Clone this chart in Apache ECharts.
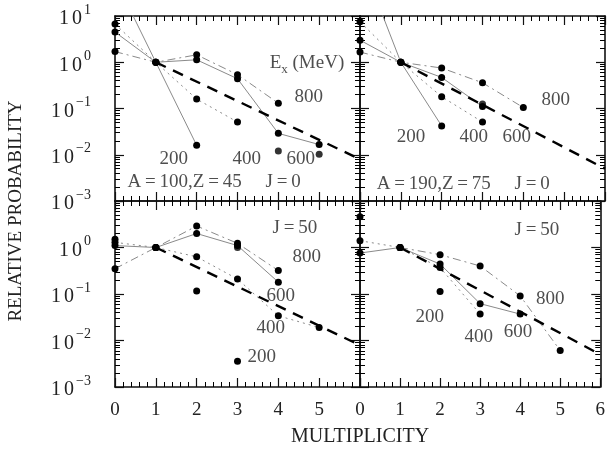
<!DOCTYPE html>
<html><head><meta charset="utf-8">
<script src="https://cdn.jsdelivr.net/npm/echarts@6/dist/echarts.min.js"></script>
<style>html,body{margin:0;padding:0;background:#fff}#c{width:608px;height:450px}</style>
</head><body><div id="c"></div>
<script>
// ---------- data ----------
const multiplicity = [0, 1, 2, 3, 4, 5];
const xTickLabels = ['0', '1', '2', '3', '4', '5', '6'];
const yTickExponents = ['\u22123', '\u22122', '\u22121', '0', '1'];
const energies = ['200', '400', '600', '800'];
const refX = [1, 6];

// A=100, Z=45, J=0 (top left)
const tl200 = [63, 1, 0.016];
const tl400 = [6.7, 1, 0.16, 0.051];
const tl600 = [4.5, 1, 1.13, 0.44, 0.029, 0.0166];
const tl800 = [1.7, 1, 1.45, 0.54, 0.13];
const tlExtraX = [4, 5];
const tlExtraY = [0.012, 0.0102];
const tlRef = [1, 0.008];

// A=190, Z=75, J=0 (top right)
const tr200 = [190, 1, 0.042];
const tr400 = [7.5, 1, 0.18, 0.051];
const tr600 = [3.0, 1, 0.47, 0.11];
const tr800 = [1.66, 1, 0.75, 0.36, 0.105];
const trExtraX = [3];
const trExtraY = [0.125];
const trRef = [1, 0.005];

// A=100, Z=45, J=50 (bottom left)
const bl200 = [1.5, 1, 0.116, 0.0036];
const bl400 = [1.29, 1, 0.63, 0.21, 0.034, 0.019];
const bl600 = [1.1, 1, 2.0, 1.1, 0.18];
const bl800 = [0.35, 1, 2.9, 1.23, 0.32];
const blExtraX = [3];
const blExtraY = [1.0];
const blRef = [1, 0.0079];

// A=190, Z=75, J=50 (bottom right)
const br200 = [4.6, 1, 0.113];
const br400 = [1.4, 1, 0.37, 0.037];
const br600 = [0.76, 1, 0.44, 0.062, 0.037];
const br800 = [null, 1, 0.70, 0.40, 0.091, 0.0061];
const brExtraX = [];
const brExtraY = [];
const brRef = [1, 0.005];

// panel annotations: [x, y, text]
const tlNotes = [[3.8, 0.96, 'E{sub|x} (MeV)'], [4.41, 0.17, '800'], [1.1, 0.0078, '200'], [2.89, 0.0078, '400'], [4.21, 0.0078, '600'], [0.32, 0.00245, 'A\u2009=\u2009100,Z\u2009=\u200945     J\u2009=\u20090']];
const trNotes = [[0.91, 0.024, '200'], [2.45, 0.024, '400'], [3.5, 0.024, '600'], [4.46, 0.15, '800'], [0.42, 0.0023, 'A\u2009=\u2009190,Z\u2009=\u200975     J\u2009=\u20090']];
const blNotes = [[3.87, 2.6, 'J\u2009=\u200950'], [4.36, 0.61, '800'], [3.72, 0.089, '600'], [3.48, 0.018, '400'], [3.26, 0.0043, '200']];
const brNotes = [[3.87, 2.35, 'J\u2009=\u200950'], [4.41, 0.075, '800'], [3.6, 0.0148, '600'], [2.62, 0.0115, '400'], [1.4, 0.031, '200']];

// ---------- build ----------
const FONT = 'Liberation Serif';
const INK = '#111';
const TXT = '#222';
const panels = [
  {sets: [tl200, tl400, tl600, tl800], lines: [true, true, true, true], ex: tlExtraX, ey: tlExtraY, ref: tlRef, notes: tlNotes},
  {sets: [tr200, tr400, tr600, tr800], lines: [true, true, true, true], ex: trExtraX, ey: trExtraY, ref: trRef, notes: trNotes},
  {sets: [bl200, bl400, bl600, bl800], lines: [false, true, true, true], ex: blExtraX, ey: blExtraY, ref: blRef, notes: blNotes},
  {sets: [br200, br400, br600, br800], lines: [false, true, true, true], ex: brExtraX, ey: brExtraY, ref: brRef, notes: brNotes}
];
const gridBoxes = [
  {left: 115, top: 16, width: 245, height: 185},
  {left: 360, top: 16, width: 245, height: 185},
  {left: 115, top: 201, width: 245, height: 186},
  {left: 360, top: 201, width: 245, height: 186}
];
const lineTypes = ['solid', [2, 4], 'solid', [8, 4, 2, 4]];

const axisLine = {show: true, onZero: false, lineStyle: {color: INK, width: 1.6}};
const xAxes = [], yAxes = [], series = [];
gridBoxes.forEach((b, g) => {
  const bottomRow = g >= 2, leftCol = g % 2 === 0;
  ['bottom', 'top'].forEach(pos => {
    xAxes.push({
      gridIndex: g, type: 'value', min: 0, max: 6, interval: 1, position: pos,
      axisLine, splitLine: {show: false},
      axisTick: {inside: true, length: 9, lineStyle: {color: INK, width: 1.2}},
      minorTick: {show: true, splitNumber: 5, length: 5, lineStyle: {color: '#000', width: 1}},
      axisLabel: {
        show: pos === 'bottom' && bottomRow, margin: 14, fontSize: 19, fontFamily: FONT, color: TXT,
        formatter: v => (leftCol && v === 6) ? '' : xTickLabels[v]
      }
    });
  });
  ['left', 'right'].forEach(pos => {
    yAxes.push({
      gridIndex: g, type: 'log', logBase: 10, min: 0.001, max: 10, position: pos,
      axisLine, splitLine: {show: false},
      axisTick: {inside: true, length: 9, lineStyle: {color: INK, width: 1.2}},
      minorTick: {show: true, splitNumber: 9, length: 5, lineStyle: {color: '#000', width: 1}},
      axisLabel: {
        show: pos === 'left' && leftCol, margin: 24,
        formatter: v => {
          const e = Math.round(Math.log10(v));
          if (bottomRow && e === 1) return '';
          return '{a|1}{b|0}{s|' + yTickExponents[e + 3] + '}';
        },
        rich: {
          a: {fontSize: 20, fontFamily: FONT, color: TXT, lineHeight: 26, verticalAlign: 'bottom', padding: [0, 3, 0, 0]},
          b: {fontSize: 20, fontFamily: FONT, color: TXT, lineHeight: 26, verticalAlign: 'bottom', padding: [0, 2, 0, 0]},
          s: {fontSize: 14, fontFamily: FONT, color: TXT, lineHeight: 14, verticalAlign: 'top'}
        }
      }
    });
  });

  const p = panels[g];
  const xi = 2 * g, yi = 2 * g;
  p.sets.forEach((arr, k) => {
    const data = [];
    arr.forEach((v, i) => { if (v !== null) data.push([multiplicity[i], v]); });
    series.push({
      type: 'line', name: energies[k], xAxisIndex: xi, yAxisIndex: yi, data, clip: true,
      symbol: 'circle', symbolSize: 7, showSymbol: true, itemStyle: {color: '#000'},
      lineStyle: {color: '#8a8a8a', width: 1, type: lineTypes[k], opacity: p.lines[k] ? 1 : 0},
      z: 3, animation: false, silent: true
    });
  });
  series.push({
    type: 'scatter', xAxisIndex: xi, yAxisIndex: yi, symbolSize: 7, itemStyle: {color: '#000'},
    data: p.ex.map((x, i) => [x, p.ey[i]]), animation: false, silent: true, z: 4
  });
  series.push({
    type: 'line', xAxisIndex: xi, yAxisIndex: yi, symbol: 'none', clip: true,
    data: refX.map((x, i) => [x, p.ref[i]]),
    lineStyle: {color: '#000', width: 2.4, type: [11, 8]}, animation: false, silent: true, z: 5
  });
  series.push({
    type: 'scatter', xAxisIndex: xi, yAxisIndex: yi, symbolSize: 1, itemStyle: {color: 'rgba(0,0,0,0)'},
    data: p.notes.map(n => ({value: [n[0], n[1]], name: n[2]})),
    label: {
      show: true, position: [0, 0], align: 'left', verticalAlign: 'middle', formatter: '{b}',
      fontSize: 19, fontFamily: FONT, color: TXT,
      rich: {sub: {fontSize: 13, fontFamily: FONT, color: TXT, verticalAlign: 'bottom', lineHeight: 20, padding: [0, 0, -4, 0]}}
    },
    animation: false, silent: true, z: 6
  });
});

const option = {
  backgroundColor: '#fff',
  animation: false,
  grid: gridBoxes,
  xAxis: xAxes,
  yAxis: yAxes,
  series,
  graphic: [
    {type: 'text', x: 16, y: 211, rotation: Math.PI / 2,
     style: {text: 'RELATIVE PROBABILITY', fontSize: 19, fontFamily: FONT, fill: TXT, align: 'center', verticalAlign: 'middle'}},
    {type: 'text', x: 360, y: 437,
     style: {text: 'MULTIPLICITY', fontSize: 20, fontFamily: FONT, fill: TXT, align: 'center', verticalAlign: 'middle'}}
  ]
};
const chart = echarts.init(document.getElementById('c'), null, {renderer: 'canvas'});
chart.setOption(option);
</script>
</body></html>
